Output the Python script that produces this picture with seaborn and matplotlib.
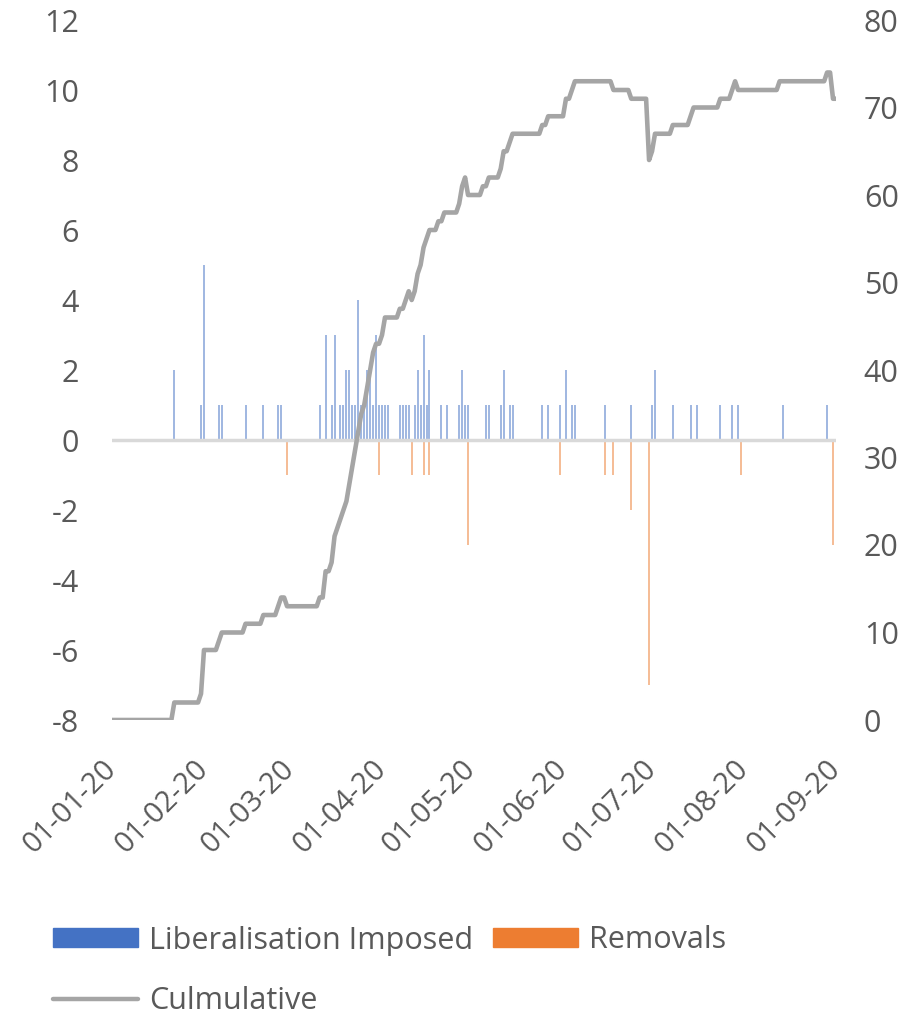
import numpy as np
import pandas as pd
import matplotlib
matplotlib.use('Agg')
import matplotlib.pyplot as plt
import matplotlib.dates as mdates
from matplotlib.patches import Patch
from matplotlib.lines import Line2D
import seaborn as sns

# daily new liberalisation measures (blue bars, left axis)
lib_dates = ['2020-01-22', '2020-01-31', '2020-02-01', '2020-02-06', '2020-02-07',
             '2020-02-15', '2020-02-21', '2020-02-26', '2020-02-27', '2020-03-11',
             '2020-03-13', '2020-03-15', '2020-03-16', '2020-03-18', '2020-03-19',
             '2020-03-20', '2020-03-21', '2020-03-22', '2020-03-23', '2020-03-24',
             '2020-03-25', '2020-03-26', '2020-03-27', '2020-03-28', '2020-03-29',
             '2020-03-30', '2020-03-31', '2020-04-01', '2020-04-02', '2020-04-03',
             '2020-04-07', '2020-04-08', '2020-04-09', '2020-04-10', '2020-04-12',
             '2020-04-13', '2020-04-14', '2020-04-15', '2020-04-16', '2020-04-17',
             '2020-04-21', '2020-04-23', '2020-04-27', '2020-04-28', '2020-04-29',
             '2020-04-30', '2020-05-06', '2020-05-07', '2020-05-11', '2020-05-12',
             '2020-05-14', '2020-05-15', '2020-05-25', '2020-05-27', '2020-05-31',
             '2020-06-02', '2020-06-04', '2020-06-05', '2020-06-15', '2020-06-24',
             '2020-07-01', '2020-07-02', '2020-07-08', '2020-07-14', '2020-07-16',
             '2020-07-24', '2020-07-28', '2020-07-30', '2020-08-14', '2020-08-29']
lib_values = [2, 1, 5, 1, 1,
              1, 1, 1, 1, 1,
              3, 1, 3, 1, 1,
              2, 2, 1, 1, 4,
              1, 1, 2, 2, 1,
              3, 1, 1, 1, 1,
              1, 1, 1, 1, 1,
              2, 1, 3, 1, 2,
              1, 1, 1, 2, 1,
              1, 1, 1, 1, 2,
              1, 1, 1, 1, 1,
              2, 1, 1, 1, 1,
              1, 2, 1, 1, 1,
              1, 1, 1, 1, 1]

# removals (orange bars, left axis)
rem_dates = ['2020-02-29', '2020-03-31', '2020-04-11', '2020-04-15', '2020-04-17',
             '2020-04-30', '2020-05-31', '2020-06-15', '2020-06-18', '2020-06-24',
             '2020-06-30', '2020-07-31', '2020-08-31']
rem_values = [-1, -1, -1, -1, -1,
              -3, -1, -1, -1, -2,
              -7, -1, -3]

# cumulative total (grey line, right axis) - points where it changes
cum_dates = ['2020-01-01', '2020-01-21', '2020-01-22', '2020-01-30', '2020-01-31',
             '2020-02-01', '2020-02-05', '2020-02-06', '2020-02-07', '2020-02-14',
             '2020-02-15', '2020-02-20', '2020-02-21', '2020-02-25', '2020-02-26',
             '2020-02-27', '2020-02-28', '2020-02-29', '2020-03-10', '2020-03-11',
             '2020-03-12', '2020-03-13', '2020-03-14', '2020-03-15', '2020-03-16',
             '2020-03-17', '2020-03-18', '2020-03-19', '2020-03-20', '2020-03-21',
             '2020-03-22', '2020-03-23', '2020-03-24', '2020-03-25', '2020-03-26',
             '2020-03-27', '2020-03-28', '2020-03-29', '2020-03-30', '2020-03-31',
             '2020-04-01', '2020-04-02', '2020-04-06', '2020-04-07', '2020-04-08',
             '2020-04-09', '2020-04-10', '2020-04-11', '2020-04-12', '2020-04-13',
             '2020-04-14', '2020-04-15', '2020-04-16', '2020-04-17', '2020-04-19',
             '2020-04-20', '2020-04-21', '2020-04-22', '2020-04-26', '2020-04-27',
             '2020-04-28', '2020-04-29', '2020-04-30', '2020-05-04', '2020-05-05',
             '2020-05-06', '2020-05-07', '2020-05-10', '2020-05-11', '2020-05-12',
             '2020-05-13', '2020-05-14', '2020-05-15', '2020-05-24', '2020-05-25',
             '2020-05-26', '2020-05-27', '2020-06-01', '2020-06-02', '2020-06-03',
             '2020-06-04', '2020-06-05', '2020-06-17', '2020-06-18', '2020-06-23',
             '2020-06-24', '2020-06-29', '2020-06-30', '2020-07-01', '2020-07-02',
             '2020-07-07', '2020-07-08', '2020-07-13', '2020-07-14', '2020-07-15',
             '2020-07-23', '2020-07-24', '2020-07-27', '2020-07-28', '2020-07-29',
             '2020-07-30', '2020-08-12', '2020-08-13', '2020-08-28', '2020-08-29',
             '2020-08-30', '2020-08-31', '2020-09-01']
cum_values = [0, 0, 2, 2, 3,
              8, 8, 9, 10, 10,
              11, 11, 12, 12, 13,
              14, 14, 13, 13, 14,
              14, 17, 17, 18, 21,
              22, 23, 24, 25, 27,
              29, 31, 33, 35, 36,
              38, 40, 42, 43, 43,
              44, 46, 46, 47, 47,
              48, 49, 48, 49, 51,
              52, 54, 55, 56, 56,
              57, 57, 58, 58, 59,
              61, 62, 60, 60, 61,
              61, 62, 62, 63, 65,
              65, 66, 67, 67, 68,
              68, 69, 69, 71, 71,
              72, 73, 73, 72, 72,
              71, 71, 64, 65, 67,
              67, 68, 68, 69, 70,
              70, 71, 71, 72, 73,
              72, 72, 73, 73, 74,
              74, 71, 71]

blue = '#4472C4'
orange = '#ED7D31'
grey = '#A5A5A5'
text_col = '#595959'

sns.set_theme(style='white')
plt.rcParams['font.family'] = ['Open Sans', 'DejaVu Sans']
plt.rcParams['axes.unicode_minus'] = False

lib = pd.DataFrame({'date': pd.to_datetime(lib_dates), 'value': lib_values})
rem = pd.DataFrame({'date': pd.to_datetime(rem_dates), 'value': rem_values})
cum = pd.DataFrame({'date': pd.to_datetime(cum_dates), 'value': cum_values})

fig = plt.figure(figsize=(9.18, 10.18), dpi=100)
ax = fig.add_axes([112/918, 1 - 720/1018, (836 - 112)/918, 700/1018])

# thin daily bars
ax.vlines(lib['date'], 0, lib['value'], color=blue, alpha=0.6, lw=1.2)
ax.vlines(rem['date'], 0, rem['value'], color=orange, alpha=0.6, lw=1.2)
ax.axhline(0, color='#D9D9D9', lw=2.5, zorder=3)

ax.set_ylim(-8, 12)
ax.set_yticks(np.arange(-8, 13, 2))
ax.set_xlim(pd.Timestamp('2020-01-01'), pd.Timestamp('2020-09-01'))
ax.xaxis.set_major_locator(mdates.MonthLocator())
ax.xaxis.set_major_formatter(mdates.DateFormatter('%d-%m-%y'))

ax2 = ax.twinx()
sns.lineplot(data=cum, x='date', y='value', ax=ax2, color=grey, linewidth=3.3)
ax2.set_ylim(0, 80)
ax2.set_yticks(np.arange(0, 81, 10))
ax2.set_xlim(pd.Timestamp('2020-01-01'), pd.Timestamp('2020-09-01'))

for a in (ax, ax2):
    for s in a.spines.values():
        s.set_visible(False)
    a.set_xlabel('')
    a.set_ylabel('')
    a.grid(False)

ax.tick_params(axis='y', length=0, pad=24, labelsize=22, labelcolor=text_col)
ax2.tick_params(axis='y', length=0, pad=20, labelsize=22, labelcolor=text_col)
ax.tick_params(axis='x', length=0, pad=32, labelsize=21, labelcolor=text_col)
for lbl in ax.get_xticklabels():
    lbl.set_rotation(45)
    lbl.set_ha('right')
    lbl.set_va('center')
    lbl.set_rotation_mode('anchor')

handles = [Patch(color=blue), Line2D([0], [0], color=grey, lw=3.2), Patch(color=orange)]
labels = ['Liberalisation Imposed', 'Culmulative', 'Removals']
leg = fig.legend(handles, labels, ncol=2, loc='upper left',
                 bbox_to_anchor=(25/918, 1 - 898/1018), frameon=False,
                 fontsize=22, handlelength=2.8, handleheight=0.6,
                 handletextpad=0.35, columnspacing=0.65, labelspacing=1.0)
for t in leg.get_texts():
    t.set_color(text_col)

fig.savefig('out.png', dpi=100)
